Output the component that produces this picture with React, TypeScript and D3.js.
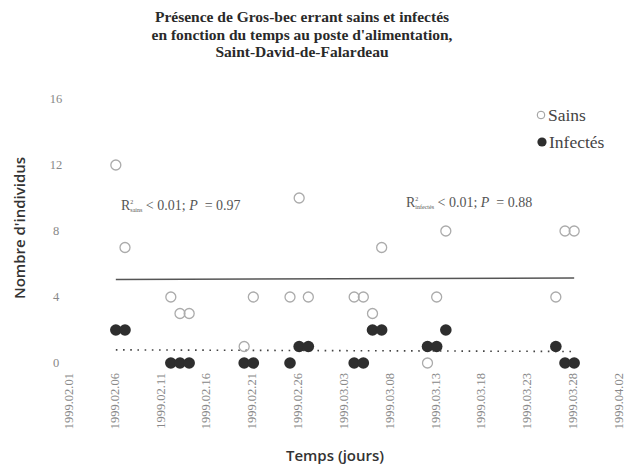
import { useEffect, useRef } from "react";
import * as d3 from "d3";

const obsDates = [
  "1999-02-06", "1999-02-07", "1999-02-12", "1999-02-13", "1999-02-14",
  "1999-02-20", "1999-02-21", "1999-02-25", "1999-02-26", "1999-02-27",
  "1999-03-04", "1999-03-05", "1999-03-06", "1999-03-07", "1999-03-12",
  "1999-03-13", "1999-03-14", "1999-03-26", "1999-03-27", "1999-03-28",
];
const sains = [12, 7, 4, 3, 3, 1, 4, 4, 10, 4, 4, 4, 3, 7, 0, 4, 8, 4, 8, 8];
const infectes = [2, 2, 0, 0, 0, 0, 0, 0, 1, 1, 0, 0, 2, 2, 1, 1, 2, 1, 0, 0];

const tickDates = [
  "1999-02-01", "1999-02-06", "1999-02-11", "1999-02-16", "1999-02-21",
  "1999-02-26", "1999-03-03", "1999-03-08", "1999-03-13", "1999-03-18",
  "1999-03-23", "1999-03-28", "1999-04-02",
];
const yTicks = [0, 4, 8, 12, 16];
const titleLines = [
  "Présence de Gros-bec errant sains et infectés",
  "en fonction du temps au poste d'alimentation,",
  "Saint-David-de-Falardeau",
];

const fmt = d3.utcFormat("%Y.%m.%d");

// least squares fit, returns [a, b] for y = a + b*x
function fit(xs: number[], ys: number[]) {
  const mx = d3.mean(xs)!;
  const my = d3.mean(ys)!;
  let num = 0;
  let den = 0;
  xs.forEach((x, i) => {
    num += (x - mx) * (ys[i] - my);
    den += (x - mx) * (x - mx);
  });
  const b = num / den;
  return [my - b * mx, b];
}

export default function App() {
  const svgRef = useRef<SVGSVGElement>(null);

  useEffect(() => {
    if (!svgRef.current) return;
    const svg = d3.select(svgRef.current);
    svg.selectAll("*").remove();

    const parse = (s: string) => new Date(s + "T00:00:00Z");
    const dates = obsDates.map(parse);

    const x = d3.scaleUtc()
      .domain([parse(tickDates[0]), parse(tickDates[tickDates.length - 1])])
      .range([70, 620]);
    const y = d3.scaleLinear().domain([0, 16]).range([363, 99]);

    // title
    const title = svg.append("text")
      .attr("text-anchor", "middle")
      .attr("font-family", "'Liberation Serif', 'Times New Roman', serif")
      .attr("font-weight", "bold")
      .attr("font-size", 15.5)
      .attr("fill", "#2a2a2a");
    titleLines.forEach((t, i) => {
      title.append("tspan").attr("x", 302).attr("y", 22 + i * 17.5).text(t);
    });

    // y ticks
    svg.append("g")
      .selectAll("text")
      .data(yTicks)
      .join("text")
      .attr("x", 56)
      .attr("y", d => y(d))
      .attr("dy", "0.35em")
      .attr("text-anchor", "middle")
      .attr("font-family", "'Liberation Serif', serif")
      .attr("font-size", 12.5)
      .attr("fill", "#888")
      .text(d => d);

    // x ticks (rotated)
    svg.append("g")
      .selectAll("text")
      .data(tickDates.map(parse))
      .join("text")
      .attr("transform", d => `translate(${x(d) - 1.5},373) rotate(-90)`)
      .attr("dy", "0.35em")
      .attr("text-anchor", "end")
      .attr("font-family", "'Liberation Serif', serif")
      .attr("font-size", 12.5)
      .attr("fill", "#888")
      .text(d => fmt(d));

    // axis titles
    svg.append("text")
      .attr("transform", "translate(25,228) rotate(-90)")
      .attr("text-anchor", "middle")
      .attr("font-family", "'Open Sans', sans-serif")
      .attr("font-weight", 600)
      .attr("font-size", 15)
      .attr("fill", "#333")
      .text("Nombre d'individus");
    svg.append("text")
      .attr("x", 335)
      .attr("y", 461)
      .attr("text-anchor", "middle")
      .attr("font-family", "'Open Sans', sans-serif")
      .attr("font-weight", 600)
      .attr("font-size", 15)
      .attr("fill", "#333")
      .text("Temps (jours)");

    // regression lines
    const xs = dates.map(d => +d);
    const x0 = d3.min(xs)!;
    const x1 = d3.max(xs)!;
    const [aS, bS] = fit(xs, sains);
    const [aI, bI] = fit(xs, infectes);
    svg.append("line")
      .attr("x1", x(x0)).attr("x2", x(x1))
      .attr("y1", y(aS + bS * x0)).attr("y2", y(aS + bS * x1))
      .attr("stroke", "#555").attr("stroke-width", 1.5);
    svg.append("line")
      .attr("x1", x(x0)).attr("x2", x(x1))
      .attr("y1", y(aI + bI * x0)).attr("y2", y(aI + bI * x1))
      .attr("stroke", "#444").attr("stroke-width", 1.6)
      .attr("stroke-dasharray", "1.6 5.6");

    // points
    svg.append("g")
      .selectAll("circle")
      .data(dates)
      .join("circle")
      .attr("cx", d => x(d))
      .attr("cy", (_, i) => y(sains[i]))
      .attr("r", 5)
      .attr("fill", "none")
      .attr("stroke", "#ababab")
      .attr("stroke-width", 1.3);
    svg.append("g")
      .selectAll("circle")
      .data(dates)
      .join("circle")
      .attr("cx", d => x(d))
      .attr("cy", (_, i) => y(infectes[i]))
      .attr("r", 5.8)
      .attr("fill", "#2e2e2e");

    // annotations
    const note = (tx: number, ty: number, sub: string, p: string) => {
      const t = svg.append("text")
        .attr("x", tx).attr("y", ty)
        .attr("font-family", "'Liberation Serif', serif")
        .attr("font-size", 14)
        .attr("fill", "#555");
      t.append("tspan").text("R");
      t.append("tspan").attr("font-size", 6).attr("dy", -6).text("2");
      t.append("tspan").attr("font-size", 6).attr("dx", -3).attr("dy", 8).text(sub);
      t.append("tspan").attr("dy", -2).text(" < 0.01; ");
      t.append("tspan").attr("font-style", "italic").text("P");
      t.append("tspan").attr("dx", 7).text("= " + p);
    };
    note(121, 210, "sains", "0.97");
    note(406, 207, "infectés", "0.88");

    // legend
    const leg = svg.append("g")
      .attr("font-family", "'Liberation Serif', serif")
      .attr("font-size", 17.5)
      .attr("fill", "#444");
    leg.append("circle").attr("cx", 541).attr("cy", 115).attr("r", 3.8)
      .attr("fill", "none").attr("stroke", "#999").attr("stroke-width", 1);
    leg.append("text").attr("x", 548).attr("y", 121).text("Sains");
    leg.append("circle").attr("cx", 542).attr("cy", 142).attr("r", 4.6)
      .attr("fill", "#2e2e2e");
    leg.append("text").attr("x", 549).attr("y", 148).text("Infectés");
  }, []);

  return (
    <svg
      ref={svgRef}
      width={627}
      height={471}
      viewBox="0 0 627 471"
      style={{ position: "absolute", left: 0, top: 0, background: "white" }}
    />
  );
}
